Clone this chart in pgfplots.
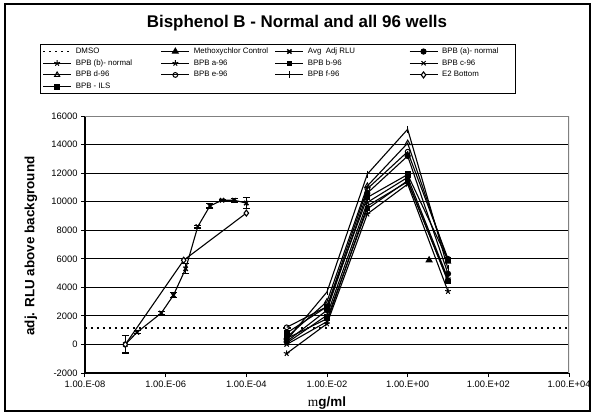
\documentclass[border=0pt]{standalone}
\usepackage{pgfplots}
\pgfplotsset{compat=1.18}
\usepackage{fontspec}
\setmainfont{Liberation Sans}
\newfontfamily\symfont{Liberation Serif}

% legend line sample 28bp long with the mark in the middle
\pgfplotsset{
  lgd/.style={legend image code/.code={%
    \draw[mark repeat=2,mark phase=2] plot coordinates {(0bp,0bp)(14bp,0bp)(28bp,0bp)};}},
  ser/.style={black, line width=1.1bp, mark size=2.6bp, mark options={solid, line width=1bp}, lgd},
}

\begin{document}
\begin{tikzpicture}[x=1bp,y=1bp]
\useasboundingbox (0,0) rectangle (595,415);
\draw[line width=1.2bp] (5,4) rectangle (590,411);
\node[font=\bfseries\fontsize{17}{20}\selectfont] at (297,392) {Bisphenol B - Normal and all 96 wells};
\node[rotate=90,font=\bfseries\fontsize{13.5}{16}\selectfont] at (31,169) {adj. RLU above background};
\node[font=\bfseries\fontsize{13.5}{16}\selectfont] at (327,12) {{\symfont\mdseries m}g/ml};

\begin{axis}[
  at={(85bp,42bp)}, anchor=south west,
  scale only axis, width=484bp, height=257bp,
  xmode=log, xmin=1e-8, xmax=1e4,
  ymin=-2000, ymax=16000,
  xtick={1e-8,1e-6,1e-4,1e-2,1,1e2,1e4},
  xticklabels={\mbox{1.00.E-08},\mbox{1.00.E-06},\mbox{1.00.E-04},\mbox{1.00.E-02},\mbox{1.00.E+00},\mbox{1.00.E+02},\mbox{1.00.E+04}},
  minor xtick={},
  ytick={-2000,0,2000,4000,6000,8000,10000,12000,14000,16000},
  yticklabels={\mbox{-2000},\mbox{0},\mbox{2000},\mbox{4000},\mbox{6000},\mbox{8000},\mbox{10000},\mbox{12000},\mbox{14000},\mbox{16000}},
  scaled y ticks=false,
  tick label style={font=\fontsize{9.4}{11}\selectfont},
  axis lines*=left,
  axis line style={-, black, line width=1.6bp},
  tick align=outside, major tick length=4bp,
  tick style={black, line width=1bp},
  ymajorgrids, grid style={black, line width=0.8bp},
  legend columns=4,
  legend cell align=left,
  legend style={at={(-0.093,1.28)}, anchor=north west, draw=black, line width=1bp,
    inner sep=2bp, row sep=1.7bp, column sep=0bp,
    font=\fontsize{7.9}{9}\selectfont,
    nodes={inner sep=1bp, text height=6bp, text depth=2bp},
    /tikz/every odd column/.append style={column sep=3bp}},
]
% DMSO
\addplot[black, line width=1.3bp, dash pattern=on 1.6bp off 4.4bp, lgd] coordinates {(1e-8,1150) (1e4,1150)};
\addlegendentry{\makebox[84bp][l]{DMSO}}
% Methoxychlor Control
\addplot[ser, mark=triangle*, mark size=3.4bp] coordinates {(3.4,5900)};
\addlegendentry{\makebox[80bp][l]{Methoxychlor Control}}
% Avg Adj RLU
\addplot[ser, mark=x, mark size=3bp, mark options={line width=1.5bp},
  error bars/.cd, y dir=both, y explicit,
  error bar style={line width=1.2bp, solid},
  error mark options={rotate=90, mark size=3.5bp, line width=1.2bp}]
  coordinates {
  (1e-7,0) +- (0,600)
  (1.95e-7,850) +- (0,100)
  (7.8e-7,2200) +- (0,80)
  (1.56e-6,3450) +- (0,180)
  (3.125e-6,5300) +- (0,350)
  (6.25e-6,8250) +- (0,100)
  (1.25e-5,9700) +- (0,150)
  (2.5e-5,10100) +- (0,60)
  (5e-5,10100) +- (0,120)
  (1e-4,9900) +- (0,400)
  };
\addlegendentry{\makebox[100bp][l]{Avg\ \ Adj RLU}}
% BPB (a)- normal
\addplot[ser, mark=*] coordinates {(1e-3,200) (1e-2,2400) (1e-1,10600) (1,13200) (10,4950)};
\addlegendentry{BPB (a)- normal\hspace*{14bp}}
% BPB (b)- normal
\addplot[ser, mark=star, mark size=3bp] coordinates {(1e-3,100) (1e-2,2050) (1e-1,9950) (1,11700) (10,4600)};
\addlegendentry{BPB (b)- normal}
% BPB a-96
\addplot[ser, mark=star, mark size=3bp] coordinates {(1e-3,-630) (1e-2,1450) (1e-1,9140) (1,11230) (10,3720)};
\addlegendentry{BPB a-96}
% BPB b-96
\addplot[ser, mark=square*, mark size=2.1bp] coordinates {(1e-3,420) (1e-2,1800) (1e-1,9500) (1,11470) (10,4400)};
\addlegendentry{BPB b-96}
% BPB c-96
\addplot[ser, mark=x, mark size=3bp] coordinates {(1e-3,0) (1e-2,1600) (1e-1,9700) (1,11400) (10,4500)};
\addlegendentry{BPB c-96}
% BPB d-96
\addplot[ser, mark=triangle, mark size=3bp] coordinates {(1e-3,500) (1e-2,3000) (1e-1,11100) (1,14100) (10,5800)};
\addlegendentry{BPB d-96}
% BPB e-96
\addplot[ser, mark=o, mark size=2.4bp] coordinates {(1e-3,1200) (1e-2,2650) (1e-1,10900) (1,13500) (10,6000)};
\addlegendentry{BPB e-96}
% BPB f-96
\addplot[ser, mark=|, mark size=3.5bp] coordinates {(1e-3,300) (1e-2,3680) (1e-1,11930) (1,15070) (10,5300)};
\addlegendentry{BPB f-96}
% E2 Bottom
\addplot[ser, mark=diamond*, mark size=3bp, mark options={fill=white}] coordinates {(1e-7,0) (2.8e-6,5900) (1e-4,9200)};
\addlegendentry{E2 Bottom}
% BPB - ILS
\addplot[ser, mark=square*, mark size=2.6bp] coordinates {(1e-3,800) (1e-2,2650) (1e-1,10300) (1,11900) (10,5900)};
\addlegendentry{BPB - ILS}

\draw[gray, line width=1.4bp] (rel axis cs:0,1) -- (rel axis cs:1,1) -- (rel axis cs:1,0);
\end{axis}
\end{tikzpicture}
\end{document}
